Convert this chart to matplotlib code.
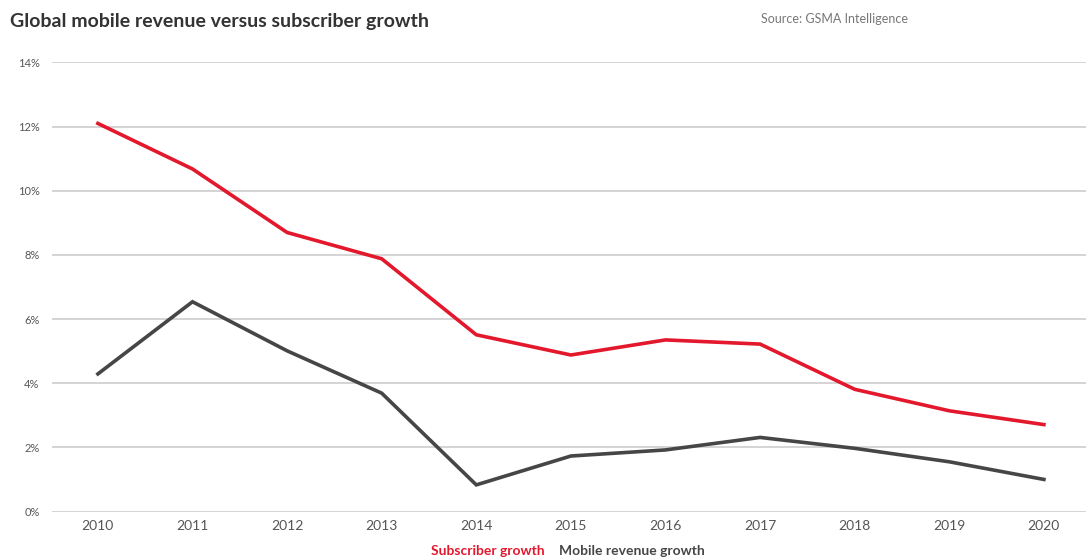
import matplotlib.pyplot as plt

# growth rates, percent per year
years = [2010, 2011, 2012, 2013, 2014, 2015, 2016, 2017, 2018, 2019, 2020]
subscriber_growth = [12.10, 10.68, 8.70, 7.88, 5.51, 4.88, 5.35, 5.22, 3.81, 3.14, 2.71]
revenue_growth = [4.29, 6.54, 5.01, 3.69, 0.83, 1.73, 1.92, 2.31, 1.97, 1.55, 1.00]
y_ticks = [0, 2, 4, 6, 8, 10, 12, 14]

red = "#e3182d"
dark = "#464646"

plt.rcParams["font.family"] = ["Lato", "DejaVu Sans"]

fig = plt.figure(figsize=(10.86, 5.6), dpi=100)
ax = fig.add_axes([0.0479, 0.0866, 0.9521, 0.8018])

ax.plot(years, subscriber_growth, color=red, lw=2.6, label="Subscriber growth",
        solid_joinstyle="miter", zorder=3)
ax.plot(years, revenue_growth, color=dark, lw=2.6, label="Mobile revenue growth",
        solid_joinstyle="miter", zorder=3)

ax.set_xlim(2009.515, 2020.445)
ax.set_ylim(0, 14)
ax.set_xticks(years)
ax.set_xticklabels([str(y) for y in years])
ax.set_yticks(y_ticks)
ax.set_yticklabels([f"{t}%" for t in y_ticks])

ax.grid(axis="y", color="#d4d4d4", lw=1.4)
ax.set_axisbelow(True)
for s in ax.spines.values():
    s.set_visible(False)
ax.tick_params(length=0)
ax.tick_params(axis="y", pad=9, labelsize=8, labelcolor="#555555")
ax.tick_params(axis="x", pad=6, labelsize=10, labelcolor="#555555")

leg = ax.legend(loc="center", bbox_to_anchor=(0.499, -0.088), ncol=2,
                frameon=False, handlelength=0, handletextpad=0, columnspacing=1.0,
                borderpad=0, labelcolor="linecolor", prop={"weight": "bold", "size": 10})
for h in leg.legend_handles:
    h.set_visible(False)

fig.text(0.009, 0.962, "Global mobile revenue versus subscriber growth",
         fontsize=14, fontweight="bold", color="#333333", va="center")
fig.text(0.701, 0.966, "Source: GSMA Intelligence", fontsize=9,
         color="#777777", va="center")

fig.savefig("out.png", dpi=100, facecolor="white")
